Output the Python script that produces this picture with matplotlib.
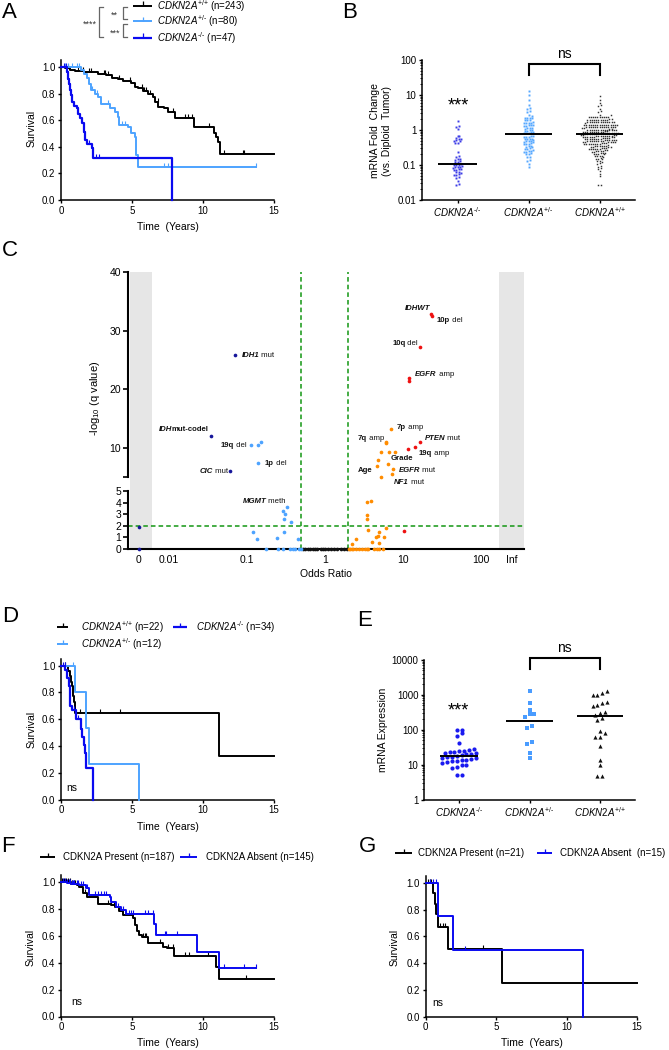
import numpy as np
import matplotlib
matplotlib.use("Agg")
import matplotlib.pyplot as plt
from matplotlib.lines import Line2D
from matplotlib.patches import Rectangle
from matplotlib.path import Path
import matplotlib.transforms as mtransforms
from matplotlib.ticker import NullLocator, LogLocator, NullFormatter

plt.rcParams['font.family'] = ['Liberation Sans', 'DejaVu Sans']
plt.rcParams['mathtext.fontset'] = 'custom'
plt.rcParams['mathtext.rm'] = 'Liberation Sans'
plt.rcParams['mathtext.it'] = 'Liberation Sans:italic'
plt.rcParams['mathtext.bf'] = 'Liberation Sans:bold'
plt.rcParams['mathtext.sf'] = 'Liberation Sans'

# ======================= DATA =======================
# ---- Panel A: survival, all patients ----
A_wt_t = [0.3, 0.6, 1.0, 1.6, 2.6, 3.2, 3.6, 4.0, 4.4, 4.9, 5.2, 5.4, 5.8, 6.1, 6.5, 6.65, 6.85,
          7.25, 7.55, 8.0, 9.4, 10.8, 10.95, 11.05, 11.17]
A_wt_s = [0.99, 0.98, 0.97, 0.96, 0.95, 0.94, 0.92, 0.91, 0.895, 0.877, 0.852, 0.84, 0.82, 0.80,
          0.777, 0.74, 0.70, 0.69, 0.664, 0.617, 0.55, 0.50, 0.476, 0.438, 0.346]
A_wt_end = 15.0
A_wt_cens = [0.5, 1.2, 1.4, 1.55, 2.0, 2.1, 3.0, 3.1, 3.3, 4.1, 4.85, 5.7, 5.85, 6.0, 6.3, 6.8,
             7.9, 8.7, 8.95, 9.2, 10.45, 11.5, 12.8, 12.9]
A_het_t = [1.4, 1.6, 1.8, 2.0, 2.1, 2.4, 2.6, 2.8, 3.45, 3.8, 4.0, 4.1, 4.75, 4.9, 5.2, 5.3, 5.42]
A_het_s = [0.975, 0.95, 0.915, 0.87, 0.83, 0.80, 0.777, 0.72, 0.69, 0.664, 0.627, 0.565, 0.55,
           0.50, 0.476, 0.34, 0.25]
A_het_end = 13.7
A_het_cens = [0.3, 0.5, 0.8, 1.1, 1.3, 2.2, 2.5, 3.3, 4.3, 4.5, 7.25, 7.55, 13.7]
A_hom_t = [0.45, 0.5, 0.55, 0.6, 0.7, 0.75, 0.95, 1.1, 1.2, 1.35, 1.45, 1.6, 1.7, 1.8, 2.15, 2.27, 7.85]
A_hom_s = [0.96, 0.91, 0.87, 0.83, 0.79, 0.74, 0.71, 0.69, 0.65, 0.62, 0.58, 0.51, 0.45, 0.42,
           0.39, 0.315, 0.0]
A_hom_end = 7.85
A_hom_cens = [0.2, 0.35, 2.0, 2.45, 2.7]
HY = "\u2010"  # short hyphen used in the genotype superscripts
A_labels = [r"$\mathit{CDKN2A}^{+/{+}}$ (n=243)", r"$\mathit{CDKN2A}^{+/" + HY + "}$ (n=80)",
            r"$\mathit{CDKN2A}^{" + HY + "/" + HY + "}$ (n=47)"]
A_sig = ["****", "**", "***"]

# ---- Panel B: mRNA fold change ----
B_categories = [r"$\mathit{CDKN2A}^{" + HY + "/" + HY + "}$", r"$\mathit{CDKN2A}^{+/" + HY + "}$",
                r"$\mathit{CDKN2A}^{+/{+}}$"]
B_hom = [1.8, 1.26, 1.22, 1.05, 0.69, 0.66, 0.59, 0.57, 0.56, 0.51, 0.5, 0.48, 0.43, 0.42, 0.24,
         0.175, 0.168, 0.148, 0.145, 0.142, 0.128, 0.125, 0.122, 0.105, 0.101, 0.1, 0.098, 0.096,
         0.089, 0.087, 0.086, 0.084, 0.076, 0.075, 0.073, 0.072, 0.063, 0.062, 0.06, 0.055, 0.053,
         0.052, 0.045, 0.043, 0.035, 0.028, 0.027]
B_het = [13.0, 9.8, 7.0, 5.1, 4.2, 4.0, 3.4, 3.2, 2.7, 2.5, 2.25, 2.2, 2.18, 2.15, 1.95, 1.9, 1.88,
         1.65, 1.62, 1.6, 1.58, 1.55, 1.38, 1.36, 1.35, 1.33, 1.3, 1.16, 1.14, 1.12, 1.1, 0.99, 0.97,
         0.96, 0.95, 0.86, 0.85, 0.84, 0.83, 0.82,
         0.67, 0.66, 0.65, 0.64, 0.63, 0.57, 0.56, 0.55, 0.54, 0.53, 0.49, 0.48, 0.47, 0.46, 0.45,
         0.42, 0.41, 0.4, 0.39, 0.35, 0.34, 0.33, 0.32, 0.3, 0.29, 0.28, 0.27, 0.255, 0.25, 0.24,
         0.235, 0.215, 0.21, 0.2, 0.17, 0.165, 0.137, 0.133, 0.11, 0.087]
B_wt = [9.3, 7.0, 6.0, 5.2, 5.0, 4.1, 3.4, 3.2, 2.75, 2.65,
        2.4, 2.39, 2.38, 2.37, 2.36, 2.35, 2.34, 2.33, 2.32, 2.3,
        2.02, 2.0, 1.99, 1.98, 1.97, 1.96, 1.95, 1.94, 1.93, 1.92, 1.91, 1.9,
        1.74, 1.73, 1.72, 1.71, 1.7, 1.7, 1.69, 1.68, 1.67, 1.66, 1.65, 1.65, 1.64, 1.63,
        1.43, 1.42, 1.42, 1.41, 1.41, 1.4, 1.4, 1.39, 1.39, 1.38, 1.38, 1.37, 1.37, 1.36, 1.36, 1.35,
        1.24, 1.24, 1.23, 1.23, 1.22, 1.22, 1.21, 1.21, 1.2, 1.2, 1.19, 1.19, 1.18, 1.18, 1.17, 1.17,
        1.04, 1.04, 1.03, 1.03, 1.02, 1.02, 1.01, 1.01, 1.0, 1.0, 0.99, 0.99, 0.98, 0.98, 0.97, 0.97,
        0.96, 0.96,
        0.89, 0.89, 0.88, 0.88, 0.87, 0.87, 0.86, 0.86, 0.85, 0.85, 0.84, 0.84, 0.83, 0.83, 0.82,
        0.82, 0.81, 0.81, 0.8, 0.8,
        0.79, 0.78, 0.77, 0.77, 0.76, 0.75, 0.74, 0.73, 0.72, 0.71,
        0.69, 0.69, 0.68, 0.68, 0.67, 0.67, 0.66, 0.66, 0.65, 0.65, 0.64, 0.64, 0.63, 0.63, 0.62,
        0.62, 0.61, 0.61,
        0.58, 0.58, 0.57, 0.57, 0.56, 0.56, 0.55, 0.55, 0.54, 0.54, 0.53, 0.53, 0.52, 0.52, 0.51, 0.51,
        0.5, 0.49, 0.49, 0.48, 0.48, 0.48, 0.47, 0.47, 0.46, 0.46, 0.45, 0.45, 0.44, 0.44,
        0.42, 0.42, 0.42, 0.41, 0.41, 0.41, 0.4, 0.4, 0.4, 0.39, 0.39, 0.38,
        0.36, 0.36, 0.35, 0.35, 0.34, 0.34, 0.33, 0.33, 0.32, 0.32,
        0.3, 0.3, 0.3, 0.29, 0.29, 0.29, 0.28, 0.28, 0.28,
        0.26, 0.26, 0.255, 0.25, 0.25, 0.245, 0.24, 0.24,
        0.22, 0.22, 0.215, 0.21, 0.21, 0.205, 0.2,
        0.185, 0.18, 0.18, 0.175, 0.17,
        0.155, 0.15, 0.15, 0.145,
        0.13, 0.126, 0.122, 0.112, 0.108, 0.093, 0.089, 0.08, 0.077, 0.066, 0.057, 0.048, 0.026, 0.026]

# ---- Panel C: odds ratio vs -log10(q) (0 and inf plotted in the grey side bands) ----
C_navy_or = [0.07, 0.035, 0.06, 0.0, 0.0]
C_navy_q = [25.8, 12.0, 6.1, 1.9, 0.0]
C_lblue_or = [0.112, 0.138, 0.15, 0.138, 0.326, 0.29, 0.31, 0.30, 0.37, 0.12, 0.30, 0.135, 0.24,
              0.45, 0.175, 0.25, 0.29, 0.355, 0.39, 0.42, 0.46, 0.49]
C_lblue_q = [10.5, 10.5, 11.0, 7.4, 3.6, 3.3, 3.0, 2.6, 2.3, 1.5, 1.5, 0.9, 0.95, 0.9,
             0.0, 0.0, 0.0, 0.0, 0.0, 0.0, 0.0, 0.0]
C_black_or = [0.52, 0.56, 0.6, 0.65, 0.7, 0.75, 0.8, 0.88, 0.95, 1.0, 1.1, 1.2, 1.3, 1.45, 1.6,
              1.75, 1.9]
C_black_q = [0.0, 0.0, 0.0, 0.0, 0.0, 0.0, 0.0, 0.0, 0.0, 0.0, 0.0, 0.0, 0.0, 0.0, 0.0, 0.0, 0.0]
C_red_or = [22.8, 23.5, 16.5, 12.0, 11.8, 16.5, 14.2, 11.5, 10.3]
C_red_q = [32.8, 32.5, 27.2, 21.9, 21.4, 11.0, 10.2, 9.8, 1.55]
C_orange_or = [7.0, 6.0, 6.1, 5.2, 6.6, 7.9, 4.8, 4.7, 6.4, 7.4, 7.2, 5.2, 3.5, 3.9, 3.5, 3.5, 3.6,
               6.0, 4.9, 4.8, 4.5, 5.7, 2.5, 4.0, 4.9, 2.2, 2.05, 2.1, 2.2, 2.3, 2.5, 2.7, 3.0, 3.3,
               3.5, 3.6, 4.2, 4.6, 5.0, 5.5]
C_orange_q = [13.2, 11.0, 10.8, 9.3, 9.3, 9.3, 8.0, 7.0, 7.3, 6.5, 5.6, 5.1, 4.05, 4.15, 2.9, 2.6,
              1.65, 1.8, 1.45, 1.1, 1.0, 1.0, 0.85, 0.6, 0.5, 0.45, 0.0, 0.0, 0.0, 0.0, 0.0, 0.0,
              0.0, 0.0, 0.0, 0.0, 0.0, 0.0, 0.0, 0.0]
C_or_thresholds = [0.5, 2.0]
C_q_threshold = 2.0
C_xtick_values = [0.0, 0.01, 0.1, 1.0, 10.0, 100.0, np.inf]
C_xtick_labels = ["0", "0.01", "0.1", "1", "10", "100", "Inf"]

# ---- Panel D: survival subset ----
D_wt_t = [0.5, 0.6, 0.7, 0.75, 0.85, 0.9, 1.0, 11.15]
D_wt_s = [0.96, 0.92, 0.88, 0.85, 0.77, 0.73, 0.65, 0.325]
D_wt_end = 15.0
D_wt_cens = [0.3, 1.35, 2.75, 4.15]
D_het_t = [1.0, 1.75, 2.0, 5.5]
D_het_s = [0.8, 0.533, 0.267, 0.0]
D_het_end = 5.5
D_het_cens = [0.85]
D_hom_t = [0.3, 0.4, 0.45, 0.55, 0.6, 0.65, 0.8, 1.05, 1.38, 1.5, 1.62, 1.68, 1.78, 2.28]
D_hom_s = [0.97, 0.94, 0.91, 0.85, 0.76, 0.70, 0.67, 0.60, 0.53, 0.47, 0.41, 0.35, 0.235, 0.0]
D_hom_end = 2.28
D_hom_cens = [0.15, 0.25, 0.9, 1.2]
D_labels = [r"$\mathit{CDKN2A}^{+/{+}}$ (n=22)", r"$\mathit{CDKN2A}^{" + HY + "/" + HY + "}$ (n=34)",
            r"$\mathit{CDKN2A}^{+/" + HY + "}$ (n=12)"]

# ---- Panel E: mRNA expression ----
E_hom = [100, 97, 80, 66, 43, 28, 27, 24, 24, 23, 23, 22, 21, 20, 20, 18.5, 17.5, 17, 16.5, 16, 15,
         14.5, 14, 14, 13, 12.5, 12, 11.5, 10, 9.5, 8.5, 8, 5.2, 5.0]
E_het = [1310, 590, 370, 290, 285, 225, 125, 112, 45, 40, 22, 16]
E_wt = [1250, 1150, 1000, 980, 630, 590, 510, 490, 320, 310, 270, 220, 185, 90, 83, 64, 62, 34,
        14, 10, 4.8, 4.6]

# ---- Panel F: CDKN2A present vs absent ----
F_pres_t = [0.3, 0.7, 1.1, 1.3, 1.55, 1.85, 2.6, 3.55, 3.8, 4.05, 4.4, 5.05, 5.2, 5.33, 5.5, 5.7,
            6.15, 7.2, 7.45, 7.95, 10.9, 11.15]
F_pres_s = [0.995, 0.985, 0.975, 0.96, 0.92, 0.89, 0.835, 0.83, 0.81, 0.78, 0.752, 0.73, 0.68, 0.637,
            0.605, 0.59, 0.549, 0.519, 0.506, 0.452, 0.37, 0.277]
F_pres_end = 15.0
F_pres_cens = [0.1, 0.2, 0.35, 0.5, 0.6, 0.8, 0.9, 1.0, 1.2, 1.4, 1.7, 3.3, 3.5, 3.7, 4.1, 4.2, 4.6,
               5.77, 5.9, 6.0, 6.95, 7.55, 7.9, 8.7, 9.0, 10.35, 13.05]
F_abs_t = [0.2, 0.4, 0.7, 1.0, 1.3, 1.75, 2.0, 3.45, 3.55, 3.9, 4.25, 4.6, 6.55, 6.7, 9.55, 11.15]
F_abs_s = [0.995, 0.99, 0.985, 0.98, 0.975, 0.95, 0.905, 0.89, 0.85, 0.81, 0.79, 0.76, 0.686, 0.605,
           0.482, 0.363]
F_abs_end = 13.7
F_abs_cens = [0.15, 0.3, 0.45, 0.55, 0.65, 0.75, 0.85, 0.95, 1.1, 1.2, 1.4, 1.55, 1.85, 2.4, 2.6,
              2.8, 3.0, 3.2, 4.0, 4.4, 4.8, 4.9, 5.1, 5.95, 6.13, 6.45, 7.3, 7.42, 8.2, 11.5, 12.9, 13.7]
F_labels = ["CDKN2A Present (n=187)", "CDKN2A Absent (n=145)"]

# ---- Panel G ----
G_pres_t = [0.55, 0.65, 0.75, 0.85, 1.6, 5.45]
G_pres_s = [0.92, 0.84, 0.77, 0.672, 0.504, 0.252]
G_pres_end = 15.0
G_pres_cens = [0.15, 0.3, 0.4, 1.05, 1.2, 1.35, 4.1]
G_abs_t = [0.9, 1.97, 11.19]
G_abs_s = [0.75, 0.5, 0.0]
G_abs_end = 11.19
G_abs_cens = [0.3, 0.5, 0.7, 2.8]
G_labels = ["CDKN2A Present (n=21)", "CDKN2A Absent  (n=15)"]

# ======================= STYLE / HELPERS =======================
BLACK = '#000000'
LBLUE = '#4da3ff'
DBLUE = '#0a0af0'
NAVY = '#16169a'
RED = '#ee1111'
ORANGE = '#ff8c00'
GREEN = '#129612'
GREY = '#e6e6e6'

W, H = 669, 1050
fig = plt.figure(figsize=(W / 100, H / 100), dpi=100)


def add_ax(l, t, r, b):
    ax = fig.add_axes([l / W, 1 - b / H, (r - l) / W, (b - t) / H])
    ax.patch.set_alpha(0)
    return ax


def ftext(x, y, s, **kw):
    return fig.text(x / W, 1 - y / H, s, **kw)


def fline(xs, ys, **kw):
    fig.add_artist(Line2D([x / W for x in xs], [1 - y / H for y in ys], **kw))


def star_text(x, y, s, size, color='k'):
    # place asterisks so that the glyphs are centred on y (pixels)
    off = 0.56 * size * 100 / 72
    ftext(x, y + off, s, fontsize=size, ha='center', va='baseline', color=color)


CENS = Path([(0, 0), (0, 1)], [Path.MOVETO, Path.LINETO])


def style_axes(ax, lw=1.1):
    for s in ('top', 'right'):
        ax.spines[s].set_visible(False)
    for s in ('left', 'bottom'):
        ax.spines[s].set_linewidth(lw)
    ax.tick_params(direction='out', length=2.5, width=1.0, labelsize=7, pad=1.5)


def km_panel(ax, curves):
    for t_ev, s_ev, t_end, cens, color, lw in curves:
        t_ev = np.asarray(t_ev, float)
        s_ev = np.asarray(s_ev, float)
        t = np.concatenate([[0.0], t_ev, [t_end]])
        s = np.concatenate([[1.0], s_ev, [s_ev[-1]]])
        ax.step(t, s, where='post', color=color, lw=lw, clip_on=False, zorder=3)
        s_arr = np.concatenate([[1.0], s_ev])
        cy = s_arr[np.searchsorted(t_ev, cens, side='right')]
        ax.plot(cens, cy, ls='none', marker=CENS, ms=6, mew=0.8, mec=color, color=color,
                clip_on=False, zorder=3)
    ax.set_xlim(0, 15)
    ax.set_ylim(0, 1.05)
    ax.set_xticks([0, 5, 10, 15])
    ax.set_yticks([0, 0.2, 0.4, 0.6, 0.8, 1.0])
    ax.set_yticklabels(['0.0', '0.2', '0.4', '0.6', '0.8', '1.0'])
    style_axes(ax)


def legend_entry(x0, x1, y, color, lw, label, tx, fs=7):
    fline([x0, x1], [y, y], color=color, lw=lw, solid_capstyle='butt')
    xm = (x0 + x1) / 2
    fline([xm, xm], [y, y - 4.5], color=color, lw=0.9, solid_capstyle='butt')
    ftext(tx, y + 0.5, label, fontsize=fs, ha='left', va='center')


def swarm_x(ax, xc, vals, dx_px, row_px):
    vals = np.asarray(vals, float)
    pts = ax.transData.transform(np.column_stack([np.full(vals.size, float(xc)), vals]))
    order = np.argsort(pts[:, 1])
    rows, cur = [], [order[0]]
    for i in order[1:]:
        if pts[i, 1] - pts[cur[0], 1] < row_px:
            cur.append(i)
        else:
            rows.append(cur)
            cur = [i]
    rows.append(cur)
    off = np.zeros(vals.size)
    for row in rows:
        k = len(row)
        off[row] = (np.arange(k) - (k - 1) / 2.0) * dx_px
    pts[:, 0] += off
    return ax.transData.inverted().transform(pts)[:, 0]


def cat_panel(ax, groups, ylim, yticks, yticklabels, row):
    ax.set_yscale('log')
    ax.set_ylim(*ylim)
    ax.set_xlim(-0.5, 2.5)
    for i, (vals, color, marker, ms, hw, dx) in enumerate(groups):
        xs = swarm_x(ax, i, vals, dx, row)
        ax.plot(xs, vals, ls='none', marker=marker, ms=ms, mew=0, color=color, zorder=3,
                clip_on=False)
        med = np.median(vals)
        ax.plot([i - hw, i + hw], [med, med], color='k', lw=1.4, zorder=4, solid_capstyle='butt')
    ax.set_yticks(yticks)
    ax.set_yticklabels(yticklabels)
    ax.yaxis.set_minor_locator(LogLocator(base=10, subs=np.arange(2, 10)))
    ax.yaxis.set_minor_formatter(NullFormatter())
    ax.set_xticks([0, 1, 2])
    ax.set_xticklabels(B_categories, fontsize=6.5)
    style_axes(ax)
    ax.tick_params(axis='y', which='minor', length=1.3, width=0.6, direction='out')


def bracket(ax, x0, x1, y_top, y_bot, label, label_y, lab_fs=10):
    tr = mtransforms.blended_transform_factory(ax.transData, ax.transAxes)
    ax.plot([x0, x0, x1, x1], [y_bot, y_top, y_top, y_bot], transform=tr, color='k', lw=1.5,
            clip_on=False, solid_joinstyle='miter')
    ax.text((x0 + x1) / 2, label_y, label, transform=tr, ha='center', va='center', fontsize=lab_fs)


# ======================= PANEL A =======================
axA = add_ax(61, 60.3, 274, 200)
km_panel(axA, [(A_wt_t, A_wt_s, A_wt_end, A_wt_cens, BLACK, 1.4),
               (A_het_t, A_het_s, A_het_end, A_het_cens, LBLUE, 1.4),
               (A_hom_t, A_hom_s, A_hom_end, A_hom_cens, DBLUE, 1.6)])
ftext(32, 128, 'Survival', rotation=90, fontsize=7.5, ha='center', va='center')
ftext(168, 227, 'Time  (Years)', fontsize=7.5, ha='center', va='center')
legend_entry(133, 152, 5.5, BLACK, 1.4, A_labels[0], 157)
legend_entry(133, 152, 21, LBLUE, 1.4, A_labels[1], 157)
legend_entry(133, 152, 37.5, DBLUE, 1.6, A_labels[2], 157)
GB = '#666666'
fline([102.5, 99, 99, 102.5], [6.5, 6.5, 37, 37], color=GB, lw=0.9)
fline([127, 123.5, 123.5, 127], [6.5, 6.5, 19, 19], color=GB, lw=0.9)
fline([127, 123.5, 123.5, 127], [23.5, 23.5, 37, 37], color=GB, lw=0.9)
star_text(90, 22, A_sig[0], 6.5, '#333333')
star_text(114, 13, A_sig[1], 6.5, '#333333')
star_text(115, 31, A_sig[2], 6.5, '#333333')

# ======================= PANEL B =======================
axB = add_ax(422, 60, 635, 200)
cat_panel(axB, [(B_hom, '#3c3ce6', 's', 1.4, 0.27, 2.4),
                (B_het, '#55a8ff', 's', 1.4, 0.33, 2.4),
                (B_wt, '#333333', 's', 1.05, 0.33, 2.2)],
          (0.01, 100), [0.01, 0.1, 1, 10, 100], ['0.01', '0.1', '1', '10', '100'], 2.2)
bracket(axB, 1, 2, (200 - 64) / 140, (200 - 75) / 140, 'ns', (200 - 54) / 140)
star_text(458, 100, '***', 13)
ftext(381, 131, 'mRNA Fold  Change\n(vs. Diploid  Tumor)', rotation=90, fontsize=7.5,
      ha='center', va='center', linespacing=1.25)

# ======================= PANEL C =======================
ZERO_POS, INF_POS = 0.0041, 245.0
XLIM_C = (0.003, 356.0)


def or_pos(v):
    v = np.asarray(v, float)
    return np.where(v == 0, ZERO_POS, np.where(np.isinf(v), INF_POS, v))


axCt = add_ax(128, 272, 524, 477.5)
axCb = add_ax(128, 491, 524, 549)
for ax in (axCt, axCb):
    ax.set_xscale('log')
    ax.set_xlim(*XLIM_C)
    for s in ('top', 'right'):
        ax.spines[s].set_visible(False)
    ax.spines['left'].set_linewidth(1.5)
    ax.spines['bottom'].set_linewidth(1.5)
    ax.tick_params(axis='y', direction='out', length=3.5, width=1.2, labelsize=7.5, pad=1.5)
    ax.xaxis.set_minor_locator(NullLocator())
axCt.spines['bottom'].set_visible(False)
axCt.xaxis.set_major_locator(NullLocator())
axCt.set_ylim(5, 40)
axCt.set_yticks([5, 10, 20, 30, 40])
axCt.set_yticklabels(['', '10', '20', '30', '40'])
axCb.set_ylim(0, 5)
axCb.set_yticks([0, 1, 2, 3, 4, 5])
axCb.set_xticks(or_pos(C_xtick_values))
axCb.set_xticklabels(C_xtick_labels)
axCb.tick_params(axis='x', length=0, labelsize=7.5, pad=4)

blend = mtransforms.blended_transform_factory(axCb.transData, fig.transFigure)
for x0, x1 in ((0.00316, 0.00605), (170.0, XLIM_C[1])):
    fig.add_artist(Rectangle((x0, 1 - 549 / H), x1 - x0, (549 - 272) / H, transform=blend,
                             facecolor=GREY, edgecolor='none', zorder=-2))
for v in C_or_thresholds:
    fig.add_artist(Line2D([v, v], [1 - 549 / H, 1 - 272 / H], transform=blend, color=GREEN,
                          lw=1.1, ls=(0, (3, 2)), zorder=-1))
axCb.axhline(C_q_threshold, color=GREEN, lw=1.1, ls=(0, (3, 2)), zorder=1)

for ors, qs, col in ((C_black_or, C_black_q, '#111111'), (C_lblue_or, C_lblue_q, LBLUE),
                     (C_navy_or, C_navy_q, NAVY), (C_orange_or, C_orange_q, ORANGE),
                     (C_red_or, C_red_q, RED)):
    x = or_pos(ors)
    q = np.asarray(qs, float)
    hi = q >= 5
    axCt.scatter(x[hi], q[hi], s=7, color=col, lw=0, zorder=3, clip_on=False)
    axCb.scatter(x[~hi], q[~hi], s=7, color=col, lw=0, zorder=3, clip_on=False)

BI = ('bold', 'italic')
B_ = ('bold', 'normal')
N_ = ('normal', 'normal')
C_text = [
    (axCt, 0.0863, 25.8, [("IDH1", BI), (" mut", N_)], 'left'),
    (axCt, 0.0326, 13.2, [("IDH", BI), ("mut-codel", B_)], 'right'),
    (axCt, 0.100, 10.5, [("19q", B_), (" del", N_)], 'right'),
    (axCt, 0.170, 7.4, [("1p", B_), (" del", N_)], 'left'),
    (axCt, 0.057, 6.1, [("CIC", BI), (" mut", N_)], 'right'),
    (axCb, 0.316, 4.1, [("MGMT", BI), (" meth", N_)], 'right'),
    (axCt, 22.8, 33.7, [("IDHWT", BI)], 'right'),
    (axCt, 27.3, 31.8, [("10p", B_), (" del", N_)], 'left'),
    (axCt, 15.6, 27.9, [("10q", B_), (" del", N_)], 'right'),
    (axCt, 14.3, 22.6, [("EGFR", BI), (" amp", N_)], 'left'),
    (axCt, 8.4, 13.6, [("7p", B_), (" amp", N_)], 'left'),
    (axCt, 5.7, 11.7, [("7q", B_), (" amp", N_)], 'right'),
    (axCt, 19.1, 11.7, [("PTEN", BI), (" mut", N_)], 'left'),
    (axCt, 16.0, 9.15, [("19q", B_), (" amp", N_)], 'left'),
    (axCt, 7.0, 8.3, [("Grade", B_)], 'left'),
    (axCt, 2.65, 6.25, [("Age", B_)], 'left'),
    (axCt, 8.9, 6.25, [("EGFR", BI), (" mut", N_)], 'left'),
    (axCt, 7.7, 4.2, [("NF1", BI), (" mut", N_)], 'left'),
]
CFS = 5.6
for ax, x, y, parts, ha in C_text:
    seq = parts if ha == 'left' else parts[::-1]
    (txt, (w, st)) = seq[0]
    prev = ax.text(x, y, txt, fontsize=CFS, fontweight=w, fontstyle=st, ha=ha, va='center',
                   clip_on=False, color='#111111')
    for txt, (w, st) in seq[1:]:
        prev = ax.annotate(txt, xy=((1, 0.5) if ha == 'left' else (0, 0.5)), xycoords=prev,
                           ha=ha, va='center', fontsize=CFS, fontweight=w, fontstyle=st,
                           color='#111111')

ftext(95, 398, '-log$_{10}$ (q value)', rotation=90, fontsize=8, ha='center', va='center')
ftext(326, 574, 'Odds Ratio', fontsize=7.5, ha='center', va='center')

# ======================= PANEL D =======================
axD = add_ax(61, 659, 274, 799.5)
km_panel(axD, [(D_wt_t, D_wt_s, D_wt_end, D_wt_cens, BLACK, 1.4),
               (D_het_t, D_het_s, D_het_end, D_het_cens, LBLUE, 1.4),
               (D_hom_t, D_hom_s, D_hom_end, D_hom_cens, DBLUE, 1.6)])
ftext(32, 729, 'Survival', rotation=90, fontsize=7.5, ha='center', va='center')
ftext(168, 827, 'Time  (Years)', fontsize=7.5, ha='center', va='center')
ftext(72, 788, 'ns', fontsize=7.5, ha='center', va='center')
legend_entry(57, 68, 627, BLACK, 1.4, D_labels[0], 81)
legend_entry(173, 187, 627, DBLUE, 1.6, D_labels[1], 196)
legend_entry(57, 68, 644, LBLUE, 1.4, D_labels[2], 81)

# ======================= PANEL E =======================
axE = add_ax(424, 660, 635, 799.5)
cat_panel(axE, [(E_hom, '#1a1af0', 'o', 3.0, 0.27, 4.8),
                (E_het, '#4a9cff', 's', 2.8, 0.33, 4.8),
                (E_wt, '#111111', '^', 3.0, 0.33, 4.8)],
          (1, 10000), [1, 10, 100, 1000, 10000], ['1', '10', '100', '1000', '10000'], 4.5)
bracket(axE, 1, 2, (799.5 - 658) / 139.5, (799.5 - 669) / 139.5, 'ns', (799.5 - 648) / 139.5)
star_text(458, 705, '***', 13)
ftext(383, 730, 'mRNA Expression', rotation=90, fontsize=7.5, ha='center', va='center')

# ======================= PANEL F =======================
axF = add_ax(61, 875, 274, 1016.5)
km_panel(axF, [(F_pres_t, F_pres_s, F_pres_end, F_pres_cens, BLACK, 1.4),
               (F_abs_t, F_abs_s, F_abs_end, F_abs_cens, DBLUE, 1.4)])
ftext(31, 947, 'Survival', rotation=90, fontsize=7.5, ha='center', va='center')
ftext(168, 1043, 'Time  (Years)', fontsize=7.5, ha='center', va='center')
ftext(77, 1002, 'ns', fontsize=7.5, ha='center', va='center')
legend_entry(40, 55, 857, BLACK, 1.4, F_labels[0], 63)
legend_entry(180, 197, 857, DBLUE, 1.4, F_labels[1], 206)

# ======================= PANEL G =======================
axG = add_ax(425.7, 876, 637, 1016.7)
km_panel(axG, [(G_pres_t, G_pres_s, G_pres_end, G_pres_cens, BLACK, 1.4),
               (G_abs_t, G_abs_s, G_abs_end, G_abs_cens, DBLUE, 1.4)])
ftext(395, 947, 'Survival', rotation=90, fontsize=7.5, ha='center', va='center')
ftext(532, 1043, 'Time  (Years)', fontsize=7.5, ha='center', va='center')
ftext(438, 1003, 'ns', fontsize=7.5, ha='center', va='center')
legend_entry(395, 412, 853, BLACK, 1.4, G_labels[0], 418)
legend_entry(537, 552, 853, DBLUE, 1.4, G_labels[1], 560)

# ======================= PANEL LETTERS =======================
for letter, x, y in (('A', 9, 12), ('B', 350, 12), ('C', 10, 251), ('D', 10, 617),
                     ('E', 365, 620), ('F', 8, 846), ('G', 368, 846)):
    ftext(x, y, letter, fontsize=16, ha='center', va='center')

fig.savefig('out.png', dpi=100)
